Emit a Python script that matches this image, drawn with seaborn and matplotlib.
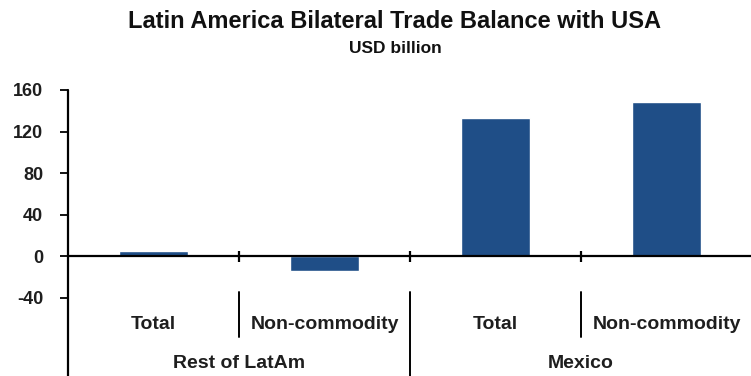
import matplotlib
matplotlib.use("Agg")
import matplotlib.pyplot as plt
import seaborn as sns
import pandas as pd

# Trade balance with the USA, USD billion
groups = ["Rest of LatAm", "Rest of LatAm", "Mexico", "Mexico"]
measures = ["Total", "Non-commodity", "Total", "Non-commodity"]
balance = [5, -14, 133, 148]
y_ticks = [-40, 0, 40, 80, 120, 160]

df = pd.DataFrame({
    "key": [f"{g}|{m}" for g, m in zip(groups, measures)],
    "group": groups,
    "measure": measures,
    "balance": balance,
})

sns.set_theme(style="white")
plt.rcParams["font.family"] = ["Liberation Sans", "DejaVu Sans"]

W, H = 751, 376
fig = plt.figure(figsize=(W / 100, H / 100), dpi=100)
ax = fig.add_axes([68 / W, 78 / H, 684 / W, 208 / H])

bar_color = "#1F4E87"
sns.barplot(data=df, x="key", y="balance", color=bar_color, width=0.4,
            saturation=1, ax=ax, order=df["key"])

text_color = "#1e1e1e"
ax.set_xlim(-0.5, len(df) - 0.5)
ax.set_ylim(-40, 160)
ax.set_yticks(y_ticks)
ax.set_yticklabels([str(v) for v in y_ticks], fontsize=13,
                   fontweight="bold", color=text_color)
ax.tick_params(axis="y", direction="out", length=6, width=1.3,
               color="black", left=True, pad=12)
ax.tick_params(axis="x", bottom=False, labelbottom=False)
ax.set_xlabel("")
ax.set_ylabel("")
for s in ax.spines.values():
    s.set_visible(False)

# value axis line, extended down through the category label area
ax.axvline(-0.5, ymin=-0.375, ymax=1.0, color="black", lw=1.6,
           clip_on=False)
# zero line with small boundary ticks
ax.axhline(0, color="black", lw=1.6)
ax.vlines([0.5, 1.5, 2.5], -5, 5, color="black", lw=1.6)

tr = ax.get_xaxis_transform()
# separators between categories below the plot
ax.plot([0.5, 0.5], [0.029, -0.1875], transform=tr, color="black",
        lw=1.4, clip_on=False)
ax.plot([2.5, 2.5], [0.029, -0.1875], transform=tr, color="black",
        lw=1.4, clip_on=False)
ax.plot([1.5, 1.5], [0.029, -0.375], transform=tr, color="black",
        lw=1.4, clip_on=False)

# category labels (two levels), placed by baseline
to_axes = lambda py: (298 - py) / 208
for i, m in enumerate(measures):
    ax.text(i, to_axes(329), m, transform=tr, ha="center", va="baseline",
            fontsize=14, fontweight="bold", color=text_color)
group_names = ["Rest of LatAm", "Mexico"]
for j, g in enumerate(group_names):
    ax.text(2 * j + 0.5, to_axes(368), g, transform=tr, ha="center",
            va="baseline", fontsize=14, fontweight="bold", color=text_color)

fig.text(395 / W, 1 - 28 / H, "Latin America Bilateral Trade Balance with USA",
         ha="center", va="baseline", fontsize=17, fontweight="bold",
         color="#111111")
fig.text(395 / W, 1 - 53 / H, "USD billion", ha="center", va="baseline",
         fontsize=12.5, fontweight="bold", color="#111111")

fig.savefig("out.png", dpi=100)
